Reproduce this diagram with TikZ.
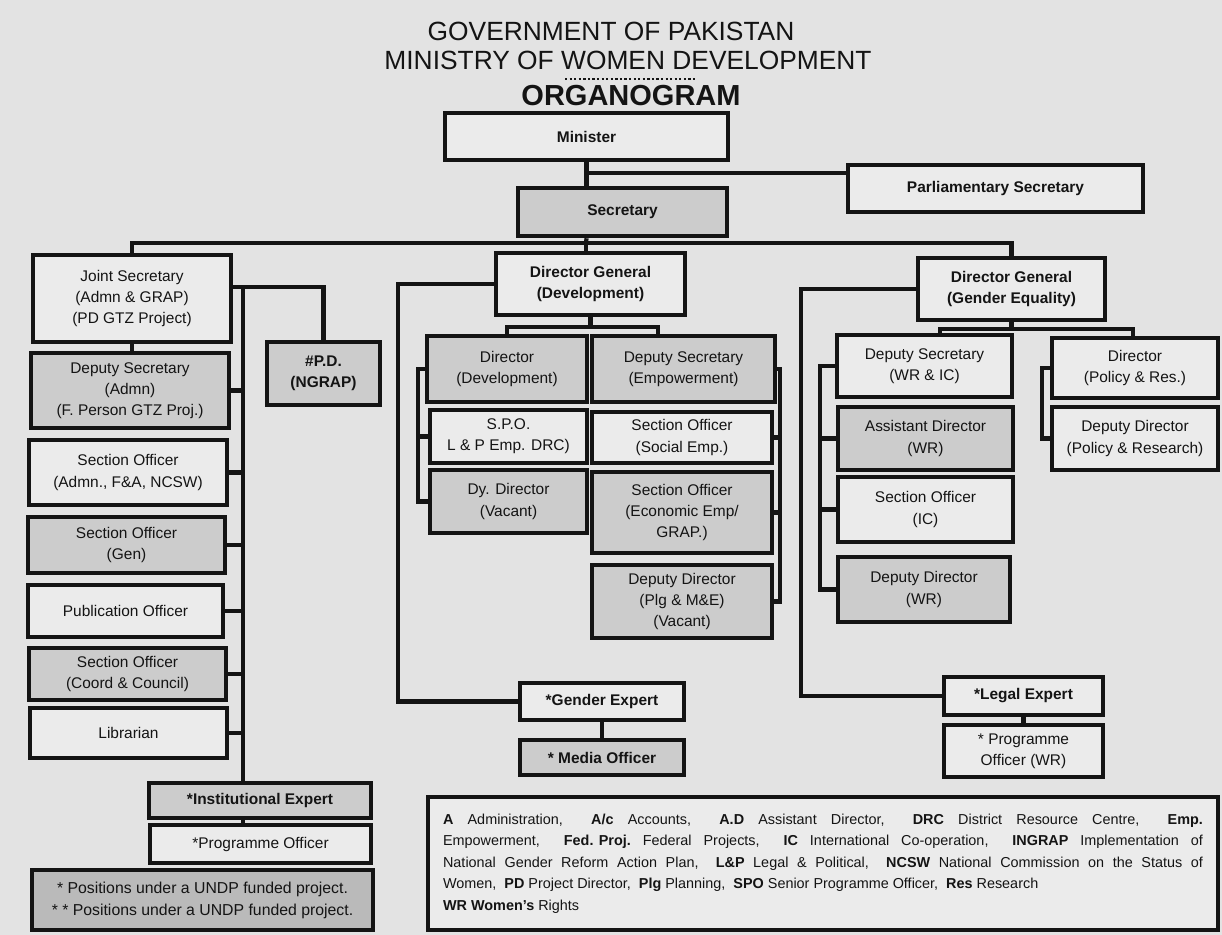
\documentclass[tikz,border=0pt]{standalone}
\usepackage{fontspec}
\setmainfont{Liberation Sans}
\usetikzlibrary{positioning, calc}
\definecolor{paper}{gray}{0.89}
\definecolor{plainfill}{gray}{0.92}
\definecolor{darkfill}{gray}{0.80}
\definecolor{notefill}{gray}{0.73}
\definecolor{ink}{gray}{0.08}
\newcommand{\ab}[1]{\textbf{#1}}

\begin{document}
\begin{tikzpicture}[x=0.02cm, y=-0.02cm, color=ink, line width=2.4pt,
    dims/.style 2 args = {minimum width=#1*0.02cm, minimum height=#2*0.02cm},
    post/.style = {draw=ink, line width=2.6pt, fill=plainfill, inner sep=0pt, align=center, font=\fontsize{8.8}{12}\selectfont},
    darkpost/.style = {post, fill=darkfill},
    strong/.style = {font=\fontsize{8.8}{12}\selectfont\bfseries}]
    \fill[paper] (0,0) rectangle (1222,935);
    \useasboundingbox (0,0) rectangle (1222,935);

    % Title
    \node[font=\fontsize{15}{18}\selectfont] (gov) at (611,31) {GOVERNMENT OF PAKISTAN};
    \node[font=\fontsize{15}{18}\selectfont] (mwd) at (628,60) {MINISTRY OF WOMEN DEVELOPMENT};
    \node[font=\fontsize{16.5}{20}\selectfont\bfseries] (org) at (631,96) {ORGANOGRAM};
    \draw[line width=1.3pt, dash pattern=on 1.3pt off 1.3pt] (565,79) -- (697,79);

    % Nodes
    \node[post, strong, dims={283}{47}] (min) at (586.5,136.5) {Minister};
    \node[post, strong, dims={295}{47}] (parl) at (995.5,188.5) {Parliamentary Secretary};
    \node[darkpost, strong, dims={209}{48}] (sec) at (622.5,212) {Secretary};

    % left wing
    \node[post, dims={198}{87}] (js) at (132,298.5) {Joint Secretary\\(Admn \& GRAP)\\(PD GTZ Project)};
    \node[darkpost, dims={198}{75}] (dsa) at (130,390.5) {Deputy Secretary\\(Admn)\\(F. Person GTZ Proj.)};
    \node[post, dims={198}{65}] (soa) at (128,472.5) {Section Officer\\(Admn., F\&A, NCSW)};
    \node[darkpost, dims={197}{56}] (sog) at (126.5,545) {Section Officer\\(Gen)};
    \node[post, dims={195}{52}] (pub) at (125.5,611) {Publication Officer};
    \node[darkpost, dims={197}{52}] (soc) at (127.5,674) {Section Officer\\(Coord \& Council)};
    \node[post, dims={197}{50}] (lib) at (128.5,733) {Librarian};
    \node[darkpost, strong, dims={222}{35}] (inst) at (260,800.5) {*Institutional Expert};
    \node[post, dims={221}{38}] (prog) at (260.5,844) {*Programme Officer};
    \node[post, fill=notefill, dims={341}{60}, font=\fontsize{9}{12.5}\selectfont] (note) at (202.5,900) {* Positions under a UNDP funded project.\\* * Positions under a UNDP funded project.};
    \node[darkpost, strong, dims={113}{63}] (pd) at (323.5,373.5) {\#P.D.\\(NGRAP)};

    % development wing
    \node[post, strong, dims={189}{62}] (dgd) at (590.5,284) {Director General\\(Development)};
    \node[darkpost, dims={160}{66}] (dird) at (507,369) {Director\\(Development)};
    \node[darkpost, dims={183}{66}] (dse) at (683.5,369) {Deputy Secretary\\(Empowerment)};
    \node[post, dims={157}{53}] (spo) at (508.5,436.5) {S.P.O.\\L \& P Emp. DRC)};
    \node[darkpost, dims={157}{63}] (dyd) at (508.5,501.5) {Dy. Director\\(Vacant)};
    \node[post, dims={180}{51}] (sos) at (682,437.5) {Section Officer\\(Social Emp.)};
    \node[darkpost, dims={180}{81}] (soe) at (682,512.5) {Section Officer\\(Economic Emp/\\GRAP.)};
    \node[darkpost, dims={180}{73}] (ddp) at (682,601.5) {Deputy Director\\(Plg \& M\&E)\\(Vacant)};
    \node[post, strong, dims={164}{37}] (gex) at (602,701.5) {*Gender Expert};
    \node[darkpost, strong, dims={164}{35}] (med) at (602,757.5) {* Media Officer};

    % gender equality wing
    \node[post, strong, dims={187}{62}] (dgg) at (1011.5,289) {Director General\\(Gender Equality)};
    \node[post, dims={175}{62}] (dswr) at (924.5,366) {Deputy Secretary\\(WR \& IC)};
    \node[darkpost, dims={175}{63}] (adwr) at (925.5,438.5) {Assistant Director\\(WR)};
    \node[post, dims={175}{65}] (soic) at (925.5,509.5) {Section Officer\\(IC)};
    \node[darkpost, dims={172}{65}] (ddwr) at (924,589.5) {Deputy Director\\(WR)};
    \node[post, dims={166}{60}] (dirp) at (1135,368) {Director\\(Policy \& Res.)};
    \node[post, dims={166}{63}] (ddpr) at (1135,438.5) {Deputy Director\\(Policy \& Research)};
    \node[post, strong, dims={159}{38}] (leg) at (1023.5,696) {*Legal Expert};
    \node[post, dims={159}{52}] (pow) at (1023.5,751) {* Programme\\Officer (WR)};

    % Legend
    \node[post, dims={790}{133}, text width=15.2cm, align=justify, font=\fontsize{8.2}{12.2}\selectfont] (lgd) at (823,863.5) {\ab{A}\ Administration,\ \ \ab{A/c}\ Accounts,\ \ \ab{A.D}\ Assistant Director,\ \ \ab{DRC}\ District Resource Centre,\ \ \ab{Emp.}\linebreak Empowerment,\ \ \ab{\mbox{Fed. Proj.}}\ Federal Projects,\ \ \ab{IC}\ International Co-operation,\ \ \ab{INGRAP}\ Implementation of\linebreak National Gender Reform Action Plan,\ \ \ab{L\&P} Legal \& Political,\ \ \ab{NCSW}\ National Commission on the Status of\linebreak Women,\ \ \ab{PD}\ Project Director,\ \ \ab{Plg}\ Planning,\ \ \ab{SPO} Senior Programme Officer,\ \ \ab{Res}\ Research\newline \ab{WR Women's} Rights};

    % Lines
    \coordinate (jmp) at (586,173);
    \coordinate (bus) at (586,243);
    \draw (min.south) -- (min.south |- sec.north);
    \draw (jmp) -- (jmp -| parl.west);
    \draw (min.south |- sec.south) -- (bus);
    \draw (js.north) |- (bus) -| (dgg.north);
    \draw (bus) -- (bus |- dgd.north);

    % left wing lines
    \coordinate (spine) at (243,287);
    \draw (js.south) -- (js.south |- dsa.north);
    \draw (spine -| js.east) -| (pd.north);
    \draw (spine) -- (spine |- inst.north);
    \foreach \p in {dsa,soa,sog,pub,soc,lib}
        \draw (\p.east) -- (\p.east -| spine);
    \draw (inst.south -| spine) -- (prog.north -| spine);

    % development wing lines
    \coordinate (dbus) at (590,327);
    \coordinate (dbr) at (658,327);
    \coordinate (dl) at (418,369);
    \coordinate (dr) at (780,372);
    \coordinate (dgl) at (398,500);
    \draw (dgd.south) -- (dgd.south |- dbus);
    \draw (dird.north) |- (dbr) -- (dbr |- dse.north);
    \draw (dird.west) -- (dird.west -| dl) |- (dyd.west);
    \draw (spo.west) -- (spo.west -| dl);
    \draw (dse.east) -- (dse.east -| dr) |- (ddp.east);
    \foreach \p in {sos,soe}
        \draw (\p.east) -- (\p.east -| dr);
    \draw (dgd.west) -| (dgl) |- (gex.west);
    \draw (gex.south) -- (med.north);

    % gender equality wing lines
    \coordinate (gbl) at (940,329);
    \coordinate (gbr) at (1133,329);
    \coordinate (gl) at (820,366);
    \coordinate (pl) at (1042,371);
    \coordinate (ggl) at (801,500);
    \draw (dgg.south) -- (dgg.south |- gbl);
    \draw (gbl |- dswr.north) -- (gbl) -- (gbr) -- (gbr |- dirp.north);
    \draw (dswr.west) -- (dswr.west -| gl) |- (ddwr.west);
    \foreach \p in {adwr,soic}
        \draw (\p.west) -- (\p.west -| gl);
    \draw (dirp.west) -- (dirp.west -| pl) |- (ddpr.west);
    \draw (dgg.west) -| (ggl) |- (leg.west);
    \draw (leg.south) -- (pow.north);
\end{tikzpicture}
\end{document}
